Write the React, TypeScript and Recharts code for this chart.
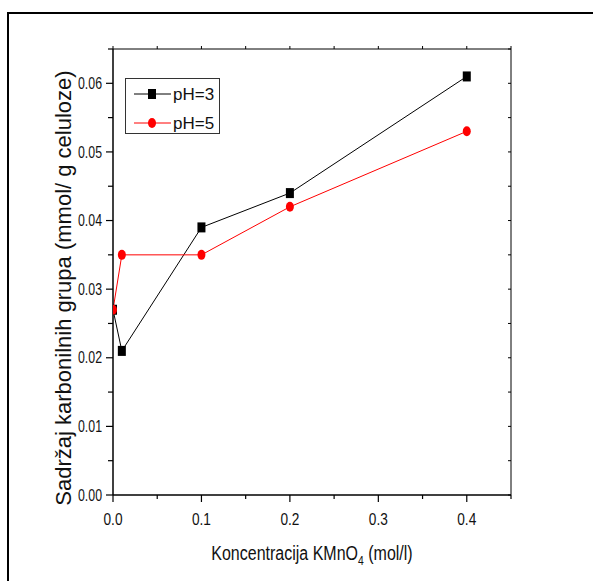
import { LineChart, Line, XAxis, YAxis, Legend } from "recharts";

const concentrations = [0, 0.01, 0.1, 0.2, 0.4];
const ph3Values = [0.027, 0.021, 0.039, 0.044, 0.061];
const ph5Values = [0.027, 0.035, 0.035, 0.042, 0.053];
const xTicks = [0, 0.05, 0.1, 0.15, 0.2, 0.25, 0.3, 0.35, 0.4, 0.45];
const yTicks = [
  0, 0.005, 0.01, 0.015, 0.02, 0.025, 0.03, 0.035, 0.04, 0.045, 0.05, 0.055,
  0.06, 0.065
];

const data = concentrations.map((c, i) => ({
  c,
  ph3: ph3Values[i],
  ph5: ph5Values[i]
}));

const SANS = "'Liberation Sans', Arial, sans-serif";

const isMajor = (v: number, step: number) =>
  Math.abs(v / step - Math.round(v / step)) < 1e-6;

// no narrow font installed, so squeeze the regular one with textLength
function BottomTick({ x, y, payload }: any) {
  const major = isMajor(payload.value, 0.1);
  return (
    <g>
      <line x1={x} x2={x} y1={y} y2={y + (major ? 7 : 4)} stroke="#000" strokeWidth={1.2} />
      {major && (
        <text
          x={x}
          y={y + 30}
          textAnchor="middle"
          fontFamily={SANS}
          fontSize={16}
          textLength={19}
          lengthAdjust="spacingAndGlyphs"
          fill="#111"
        >
          {payload.value.toFixed(1)}
        </text>
      )}
    </g>
  );
}

function LeftTick({ x, y, payload }: any) {
  const major = isMajor(payload.value, 0.01);
  return (
    <g>
      <line x1={x} x2={x - (major ? 7 : 5)} y1={y} y2={y} stroke="#000" strokeWidth={1.2} />
      {major && (
        <text
          x={x - 11}
          y={y}
          dy="0.35em"
          textAnchor="end"
          fontFamily={SANS}
          fontSize={16}
          textLength={24}
          lengthAdjust="spacingAndGlyphs"
          fill="#111"
        >
          {payload.value.toFixed(2)}
        </text>
      )}
    </g>
  );
}

function TopTick({ x, y }: any) {
  return <line x1={x} x2={x} y1={y} y2={y - 3} stroke="#000" strokeWidth={1} />;
}

function RightTick({ x, y }: any) {
  return <line x1={x} x2={x - 3} y1={y} y2={y} stroke="#000" strokeWidth={1} />;
}

function SquareDot({ cx, cy, index }: any) {
  return <rect key={`sq-${index}`} x={cx - 4} y={cy - 5} width={8} height={10} fill="#000" />;
}

function RoundDot({ cx, cy, index }: any) {
  return <ellipse key={`ci-${index}`} cx={cx} cy={cy} rx={4} ry={5} fill="#ff0000" />;
}

function XLabel({ viewBox }: any) {
  const cx = viewBox.x + viewBox.width / 2;
  return (
    <text
      transform={`translate(${cx} 560) scale(0.8 1)`}
      x={0}
      y={0}
      textAnchor="middle"
      fontFamily={SANS}
      fontSize={20}
      fill="#111"
    >
      Koncentracija KMnO<tspan fontSize={13} dy={5}>4</tspan><tspan dy={-5}> (mol/l)</tspan>
    </text>
  );
}

function YLabel() {
  return (
    <text
      x={71}
      y={288}
      transform="rotate(-90 71 288)"
      textAnchor="middle"
      fontFamily={SANS}
      fontSize={22}
      fill="#111"
    >
      Sadržaj karbonilnih grupa (mmol/ g celuloze)
    </text>
  );
}

function renderLegend({ payload }: any) {
  return (
    <svg width={95} height={56} style={{ display: "block" }}>
      <rect x={0.5} y={0.5} width={94} height={55} fill="#fff" stroke="#333" />
      {(payload || []).map((item: any, i: number) => {
        const y = 16 + i * 29;
        const red = item.dataKey === "ph5";
        return (
          <g key={item.dataKey}>
            <line x1={9} x2={46} y1={y} y2={y} stroke={item.color} strokeWidth={1} />
            {red ? (
              <ellipse cx={27} cy={y} rx={4} ry={5} fill="#ff0000" />
            ) : (
              <rect x={23} y={y - 5} width={8} height={10} fill="#000" />
            )}
            <text x={48} y={y + 6} fontFamily={SANS} fontSize={17} fill="#111">
              {item.value}
            </text>
          </g>
        );
      })}
    </svg>
  );
}

export default function App() {
  return (
    <div
      style={{
        position: "absolute",
        left: 0,
        top: 0,
        width: 593,
        height: 581,
        overflow: "hidden",
        background: "#fff"
      }}
    >
      <div
        style={{
          position: "absolute",
          left: 7,
          top: 12,
          width: 700,
          height: 700,
          borderTop: "2px solid #000",
          borderLeft: "2px solid #000"
        }}
      />
      <LineChart
        width={593}
        height={581}
        data={data}
        margin={{ top: 0, right: 0, bottom: 0, left: 0 }}
        style={{ position: "absolute", left: 0, top: 0 }}
      >
        <XAxis
          dataKey="c"
          type="number"
          domain={[0, 0.45]}
          ticks={xTicks}
          allowDataOverflow
          height={86}
          tickSize={0}
          tickMargin={0}
          tickLine={false}
          tick={BottomTick}
          axisLine={{ stroke: "#000", strokeWidth: 1.5 }}
          label={{ content: XLabel }}
        />
        <XAxis
          xAxisId="top"
          orientation="top"
          dataKey="c"
          type="number"
          domain={[0, 0.45]}
          ticks={xTicks}
          allowDataOverflow
          height={49}
          tickSize={0}
          tickMargin={0}
          tickLine={false}
          tick={TopTick}
          axisLine={{ stroke: "#000", strokeWidth: 1 }}
        />
        <YAxis
          type="number"
          domain={[0, 0.065]}
          ticks={yTicks}
          allowDataOverflow
          width={113}
          tickSize={0}
          tickMargin={0}
          tickLine={false}
          tick={LeftTick}
          axisLine={{ stroke: "#000", strokeWidth: 1.5 }}
          label={{ content: YLabel }}
        />
        <YAxis
          yAxisId="right"
          orientation="right"
          type="number"
          domain={[0, 0.065]}
          ticks={yTicks}
          allowDataOverflow
          width={82}
          tickSize={0}
          tickMargin={0}
          tickLine={false}
          tick={RightTick}
          axisLine={{ stroke: "#000", strokeWidth: 1 }}
        />
        <Legend
          layout="vertical"
          align="center"
          verticalAlign="middle"
          content={renderLegend}
          wrapperStyle={{ left: 125, top: 78, width: 95, height: 56 }}
        />
        <Line
          dataKey="ph3"
          name="pH=3"
          stroke="#000"
          strokeWidth={1}
          dot={SquareDot}
          activeDot={false}
          isAnimationActive={false}
        />
        <Line
          dataKey="ph5"
          name="pH=5"
          stroke="#ff0000"
          strokeWidth={1}
          dot={RoundDot}
          activeDot={false}
          isAnimationActive={false}
        />
      </LineChart>
    </div>
  );
}
